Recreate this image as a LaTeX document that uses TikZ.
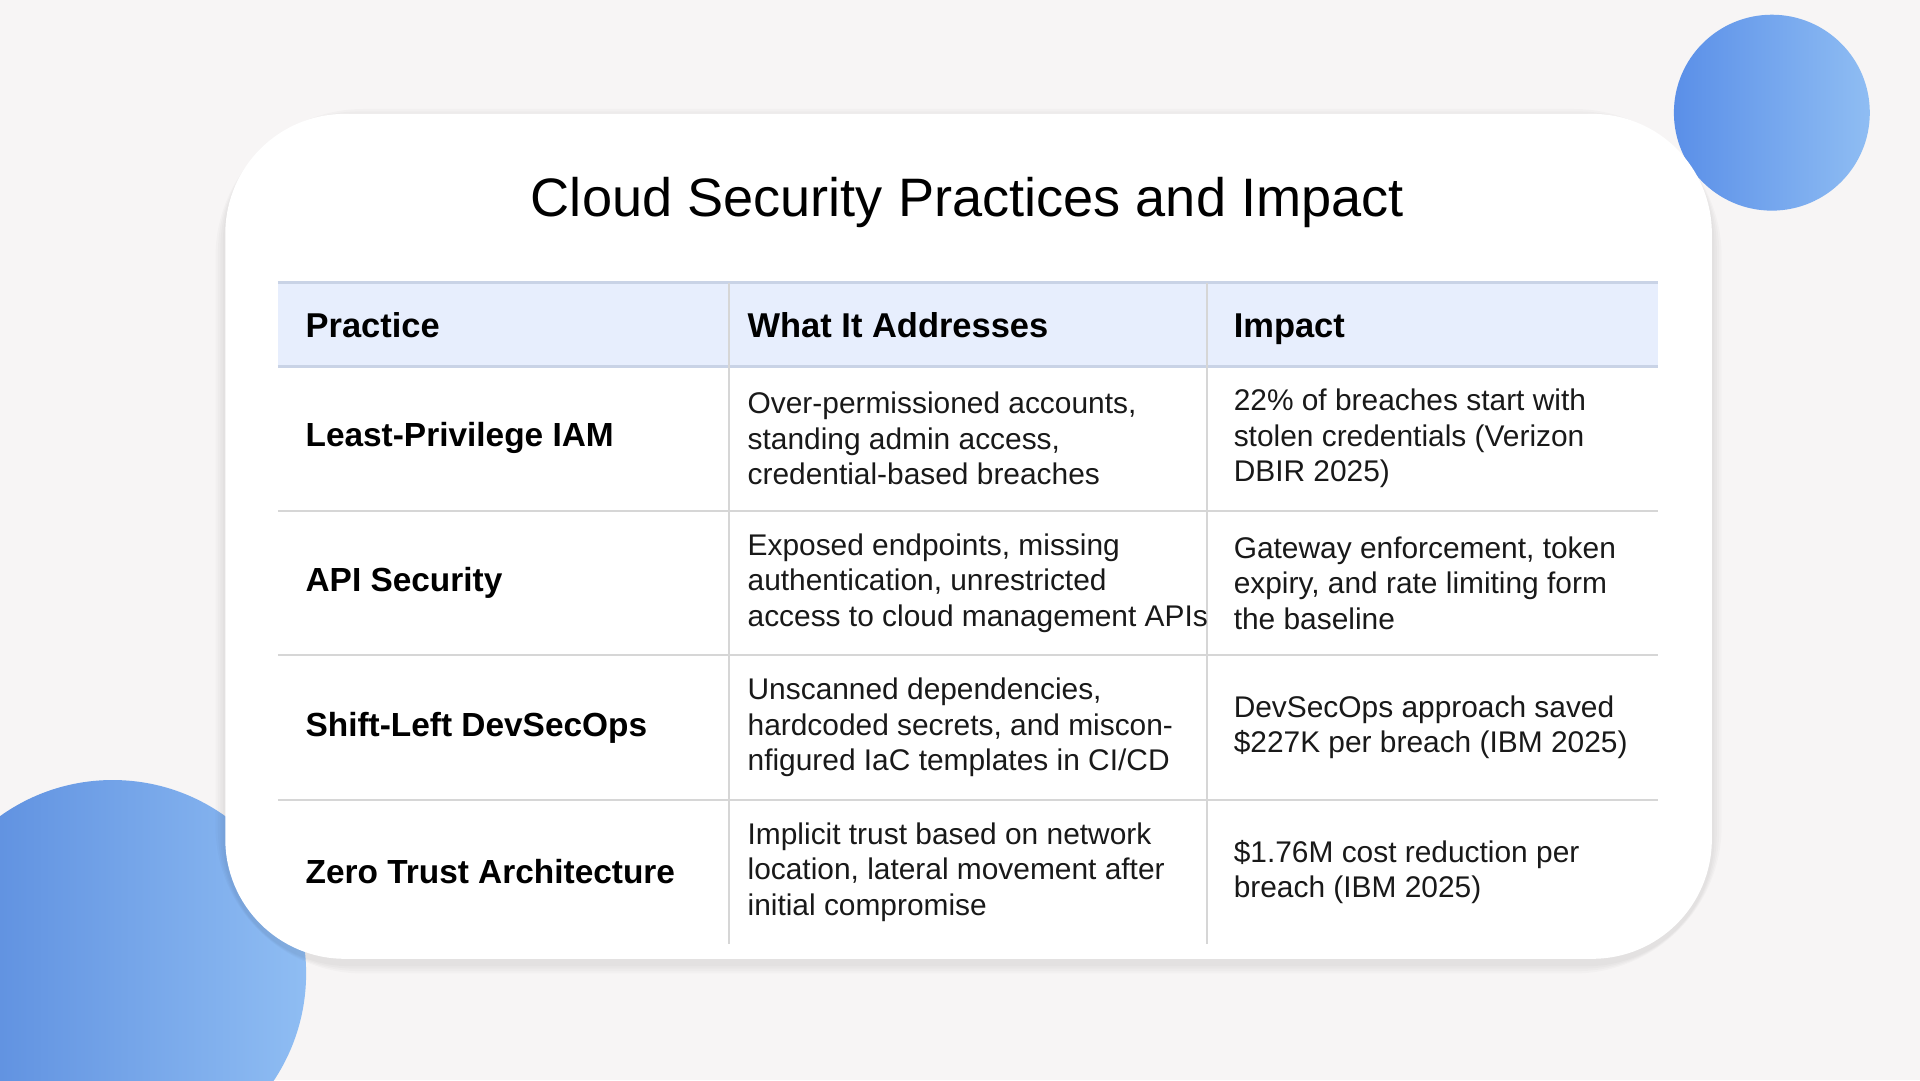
\documentclass[tikz,border=0pt]{standalone}
\usepackage{fontspec}
\setmainfont{Liberation Sans}
\usetikzlibrary{positioning}
\definecolor{pagebg}{HTML}{F7F5F5}
\definecolor{headbg}{HTML}{E7EEFD}
\definecolor{headline}{HTML}{C9D3E6}
\definecolor{rowline}{HTML}{D6D6D6}
\definecolor{blobA}{HTML}{5A8FE8}
\definecolor{blobB}{HTML}{8FBDF3}
\tikzset{
  cell/.style={anchor=west,align=left,inner sep=0pt,font=\fontsize{8.5}{10.1}\selectfont,text=black!90},
  headcell/.style={anchor=base west,inner sep=0pt,font=\fontsize{9.8}{12}\selectfont\bfseries},
  practice/.style={anchor=west,inner sep=0pt,font=\fontsize{9.5}{12}\selectfont\bfseries},
  sepline/.style={rowline,line width=0.6pt}
}
\begin{document}
\begin{tikzpicture}[x=0.012245cm,y=-0.012245cm]
\useasboundingbox (0,0) rectangle (1568,882);
\fill[pagebg] (0,0) rectangle (1568,882);
% blobs
\shade[left color=blobA,right color=blobB] (1447,92) circle (80);
\begin{scope}
\clip (0,0) rectangle (1568,882);
\shade[left color=blobA!95!black,right color=blobB] (92,795) circle (158);
\end{scope}
% card with soft shadow
\foreach \s in {8,6,4,2}
  \fill[black,opacity=0.018,rounded corners=34+\s] (184-\s,93-\s+4) rectangle (1398+\s,783+\s+4);
\fill[white,rounded corners=34] (184,93) rectangle (1398,783);
\node[font=\fontsize{15.4}{20}\selectfont] (title) at (790,165) {Cloud Security Practices and Impact};
% header
\fill[headbg] (227,231) rectangle (1354,299);
\draw[headline,line width=0.8pt] (227,231) -- (1354,231);
\draw[headline,line width=0.8pt] (227,299) -- (1354,299);
\foreach \y in {417,535,653} \draw[sepline] (227,\y) -- (1354,\y);
\draw[sepline] (595,231) -- (595,771);
\draw[sepline] (986,231) -- (986,771);
\node[headcell] (h1) at (249,276) {Practice};
\node[headcell] (h2) at (610,276) {What It Addresses};
\node[headcell] (h3) at (1007,276) {Impact};
% rows
\node[practice] (p1) at (249,358) {Least-Privilege IAM};
\node[cell] (a1) at (610,358) {Over-permissioned accounts,\\standing admin access,\\credential-based breaches};
\node[cell] (i1) at (1007,358) {22\% of breaches start with\\stolen credentials (Verizon\\DBIR 2025)};
\node[practice] (p2) at (249,476) {API Security};
\node[cell] (a2) at (610,476) {Exposed endpoints, missing\\authentication, unrestricted\\access to cloud management APIs};
\node[cell] (i2) at (1007,476) {Gateway enforcement, token\\expiry, and rate limiting form\\the baseline};
\node[practice] (p3) at (249,594) {Shift-Left DevSecOps};
\node[cell] (a3) at (610,594) {Unscanned dependencies,\\hardcoded secrets, and miscon-\\nfigured IaC templates in CI/CD};
\node[cell] (i3) at (1007,594) {DevSecOps approach saved\\\$227K per breach (IBM 2025)};
\node[practice] (p4) at (249,712) {Zero Trust Architecture};
\node[cell] (a4) at (610,712) {Implicit trust based on network\\location, lateral movement after\\initial compromise};
\node[cell] (i4) at (1007,712) {\$1.76M cost reduction per\\breach (IBM 2025)};
\end{tikzpicture}
\end{document}
